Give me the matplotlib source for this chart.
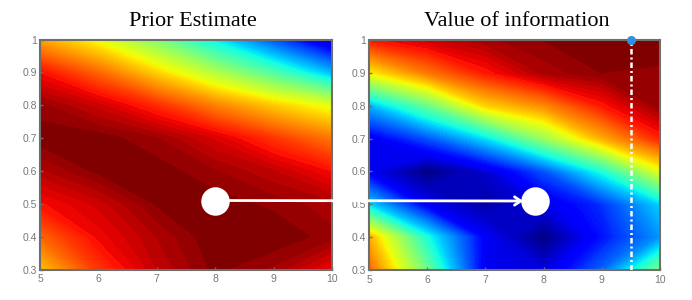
import numpy as np
import matplotlib
matplotlib.use("Agg")
import matplotlib.pyplot as plt
from matplotlib.patches import ConnectionPatch

x_vals = [5, 6, 7, 8, 9, 10]
y_vals = [0.3, 0.4, 0.5, 0.6, 0.7, 0.8, 0.9, 1.0]

prior_z = [
    [0.70, 0.85, 0.94, 0.99, 0.965, 0.90],
    [0.80, 0.90, 0.955, 1.00, 1.00, 0.975],
    [0.89, 0.93, 0.987, 0.995, 0.98, 0.96],
    [0.95, 0.99, 0.995, 0.97, 0.94, 0.89],
    [0.995, 0.995, 0.97, 0.92, 0.85, 0.78],
    [0.975, 0.93, 0.86, 0.77, 0.69, 0.62],
    [0.89, 0.80, 0.68, 0.56, 0.44, 0.30],
    [0.73, 0.63, 0.50, 0.35, 0.20, 0.05],
]
voi_z = [
    [0.80, 0.48, 0.10, 0.08, 0.22, 0.50],
    [0.72, 0.38, 0.11, 0.00, 0.14, 0.27],
    [0.33, 0.10, 0.03, 0.09, 0.17, 0.33],
    [0.10, 0.00, 0.07, 0.20, 0.38, 0.62],
    [0.10, 0.20, 0.34, 0.53, 0.72, 0.87],
    [0.30, 0.47, 0.68, 0.76, 0.88, 0.98],
    [0.65, 0.78, 0.88, 0.96, 0.985, 0.98],
    [0.88, 0.93, 0.965, 0.985, 1.00, 1.00],
]
titles = ["Prior Estimate", "Value of information"]
x_ticks = [5, 6, 7, 8, 9, 10]
y_ticks = [0.3, 0.4, 0.5, 0.6, 0.7, 0.8, 0.9, 1]
y_labels = ["0.3", "0.4", "0.5", "0.6", "0.7", "0.8", "0.9", "1"]
prior_point = (8, 0.51)
voi_point = (7.85, 0.51)
best_x = 9.5

W, H = 692, 300
GRIS = "#6e6e6e"

# mas niveles en la parte suave, menos en el rojo oscuro
niveles = np.concatenate([np.linspace(0, 0.88, 111), np.linspace(0.895, 0.985, 7)])


def panel(left, right, top, bottom, z, title, title_x):
    ax = fig.add_axes([left / W, 1 - bottom / H, (right - left) / W, (bottom - top) / H])
    cs = ax.contourf(x_vals, y_vals, z, levels=niveles, cmap="jet", vmin=0, vmax=1, extend="both")
    cs.set_edgecolor("face")
    cs.set_linewidth(0.4)
    ax.set_xlim(5, 10)
    ax.set_ylim(0.3, 1)
    ax.set_xticks(x_ticks)
    ax.set_yticks(y_ticks)
    ax.set_yticklabels(y_labels)
    ax.tick_params(direction="in", length=2, width=1, color=GRIS, labelcolor="#777777",
                   labelsize=7.5)
    ax.tick_params(axis="x", pad=3.5)
    ax.tick_params(axis="y", pad=2)
    for lab in ax.get_xticklabels() + ax.get_yticklabels():
        lab.set_family("Liberation Sans")
    for s in ax.spines.values():
        s.set_color(GRIS)
        s.set_linewidth(1.5)
    ax.set_title(title, family="Liberation Serif", fontsize=16, color="black", pad=10, x=title_x)
    return ax


fig = plt.figure(figsize=(W / 100, H / 100), dpi=100)
ax1 = panel(40, 332, 39.5, 269.5, prior_z, titles[0], 0.525)
ax2 = panel(369, 660, 40, 270, voi_z, titles[1], 0.507)

ax1.plot(*prior_point, "o", color="white", ms=20.5, mew=0, zorder=5)
ax2.plot(*voi_point, "o", color="white", ms=20.5, mew=0, zorder=5)

# flecha que cruza de un panel al otro
arrow = ConnectionPatch(xyA=prior_point, coordsA=ax1.transData,
                        xyB=(voi_point[0] - 0.2, voi_point[1]), coordsB=ax2.transData,
                        arrowstyle="->,head_length=0.45,head_width=0.3",
                        color="white", lw=2, zorder=4, shrinkA=0, shrinkB=0)
fig.add_artist(arrow)

ax2.plot([best_x, best_x], [0.3, 1], color="white", lw=1.8, ls=(0, (2.2, 1.2, 0.8, 1.2)), zorder=4)
ax2.plot(best_x, 1, "o", color="#2f8fe0", ms=6.5, mew=0, clip_on=False, zorder=6)

fig.savefig("out.png", dpi=100)
